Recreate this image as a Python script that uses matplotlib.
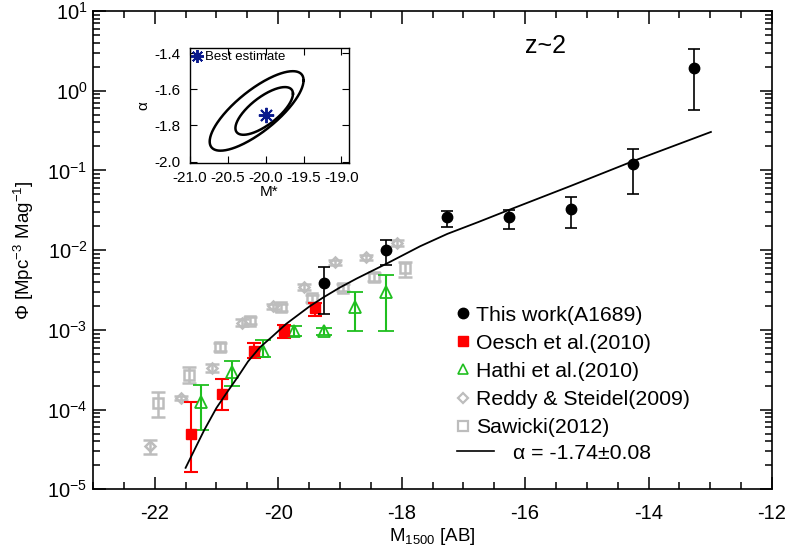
import numpy as np
import matplotlib
matplotlib.use("Agg")
import matplotlib.pyplot as plt
from matplotlib.lines import Line2D
from matplotlib.ticker import MultipleLocator, LogLocator, NullFormatter, FormatStrFormatter

plt.rcParams['font.family'] = ['Liberation Sans', 'DejaVu Sans']
plt.rcParams['mathtext.default'] = 'regular'
plt.rcParams['axes.unicode_minus'] = False

# ---- data ----
# This work (A1689)
mag_tw = [-19.26, -18.26, -17.26, -16.26, -15.26, -14.26, -13.26]
phi_tw = [3.9e-3, 1.0e-2, 2.6e-2, 2.6e-2, 3.3e-2, 0.12, 1.95]
hi_tw = [6.1e-3, 1.35e-2, 3.1e-2, 3.15e-2, 4.6e-2, 0.186, 3.3]
lo_tw = [1.6e-3, 6.5e-3, 1.95e-2, 1.85e-2, 1.9e-2, 0.050, 0.57]

# Oesch et al. (2010)
mag_oe = [-21.41, -20.91, -20.40, -19.90, -19.40]
phi_oe = [4.9e-5, 1.58e-4, 5.5e-4, 9.7e-4, 1.88e-3]
hi_oe = [1.26e-4, 2.45e-4, 6.8e-4, 1.15e-3, 2.2e-3]
lo_oe = [1.66e-5, 9.8e-5, 4.4e-4, 7.9e-4, 1.48e-3]

# Hathi et al. (2010)
mag_ha = [-21.25, -20.75, -20.25, -19.75, -19.25, -18.75, -18.25]
phi_ha = [1.25e-4, 2.95e-4, 5.5e-4, 9.6e-4, 9.8e-4, 1.92e-3, 2.95e-3]
hi_ha = [2.06e-4, 4.1e-4, 7.4e-4, 1.12e-3, 1.07e-3, 2.95e-3, 4.9e-3]
lo_ha = [5.5e-5, 2.0e-4, 4.6e-4, 8.4e-4, 8.5e-4, 9.8e-4, 9.8e-4]

# Reddy & Steidel (2009)
mag_rs = [-22.08, -21.58, -21.08, -20.58, -20.08, -19.58, -19.08, -18.58, -18.08]
phi_rs = [3.5e-5, 1.4e-4, 3.3e-4, 1.23e-3, 1.97e-3, 3.5e-3, 7.1e-3, 8.1e-3, 1.24e-2]
hi_rs = [4.2e-5, 1.5e-4, 3.7e-4, 1.35e-3, 2.1e-3, 3.8e-3, 7.6e-3, 8.7e-3, 1.36e-2]
lo_rs = [2.75e-5, 1.3e-4, 2.95e-4, 1.12e-3, 1.85e-3, 3.2e-3, 6.6e-3, 7.5e-3, 1.13e-2]

# Sawicki (2012)
mag_sw = [-21.95, -21.45, -20.95, -20.45, -19.95, -19.45, -18.95, -18.45, -17.95]
phi_sw = [1.2e-4, 2.75e-4, 6.1e-4, 1.31e-3, 1.91e-3, 2.5e-3, 3.4e-3, 4.6e-3, 5.9e-3]
hi_sw = [1.66e-4, 3.4e-4, 6.9e-4, 1.45e-3, 2.1e-3, 2.75e-3, 3.75e-3, 5.1e-3, 7.2e-3]
lo_sw = [8.1e-5, 2.15e-4, 5.4e-4, 1.18e-3, 1.72e-3, 2.25e-3, 3.05e-3, 4.1e-3, 4.6e-3]

# Schechter fit curve
mag_fit = [-21.50, -21.35, -21.20, -21.00, -20.84, -20.65, -20.49, -20.30, -20.10,
           -19.87, -19.50, -19.27, -19.00, -18.73, -18.24, -17.70, -17.26, -16.76,
           -16.26, -15.26, -14.26, -12.99]
phi_fit = [1.86e-5, 3.2e-5, 5.5e-5, 1.05e-4, 1.6e-4, 2.6e-4, 4.0e-4, 6.0e-4, 8.2e-4,
           1.19e-3, 1.95e-3, 2.55e-3, 3.4e-3, 4.4e-3, 6.8e-3, 1.12e-2, 1.6e-2, 2.25e-2,
           3.2e-2, 6.4e-2, 0.13, 0.304]

# inset: best estimate and confidence contours
# (centre x, centre y, half-width x, half-width y, correlation)
best_mstar = [-20.0]
best_alpha = [-1.74]
ell_cx = [-20.02, -20.12]
ell_cy = [-1.72, -1.72]
ell_sx = [0.38, 0.62]
ell_sy = [0.132, 0.22]
ell_rho = [0.72, 0.77]


def errs(phi, lo, hi):
    phi = np.array(phi)
    return [phi - np.array(lo), np.array(hi) - phi]


fig = plt.figure(figsize=(7.91, 5.54), dpi=100)
ax = fig.add_axes([0.1176, 0.1168, 0.8584, 0.8633])

red = '#ff0000'
green = '#1fbf1f'
gray = '#bdbdbd'

ax.errorbar(mag_sw, phi_sw, yerr=errs(phi_sw, lo_sw, hi_sw), fmt='s', ms=6.5,
            mfc='none', mec=gray, mew=1.8, ecolor=gray, elinewidth=1.8,
            capsize=5, capthick=1.8, zorder=2)
ax.errorbar(mag_rs, phi_rs, yerr=errs(phi_rs, lo_rs, hi_rs), fmt='D', ms=5.5,
            mfc='none', mec=gray, mew=1.8, ecolor=gray, elinewidth=1.8,
            capsize=5, capthick=1.8, zorder=2)
ax.errorbar(mag_ha, phi_ha, yerr=errs(phi_ha, lo_ha, hi_ha), fmt='^', ms=8,
            mfc='none', mec=green, mew=1.3, ecolor=green, elinewidth=1.5,
            capsize=5.5, capthick=1.5, zorder=3)
ax.errorbar(mag_oe, phi_oe, yerr=errs(phi_oe, lo_oe, hi_oe), fmt='s', ms=6.5,
            mfc=red, mec=red, ecolor=red, elinewidth=1.5,
            capsize=5, capthick=1.5, zorder=3)
ax.plot(mag_fit, phi_fit, color='black', lw=1.3, zorder=4)
ax.errorbar(mag_tw, phi_tw, yerr=errs(phi_tw, lo_tw, hi_tw), fmt='o', ms=7.5,
            mfc='black', mec='black', ecolor='black', elinewidth=1.2,
            capsize=4.5, capthick=1.2, zorder=5)

ax.set_yscale('log')
ax.set_xlim(-23, -12)
ax.set_ylim(1e-5, 10)
ax.xaxis.set_major_locator(MultipleLocator(2))
ax.xaxis.set_minor_locator(MultipleLocator(0.5))
ax.yaxis.set_major_locator(LogLocator(base=10, numticks=10))
ax.yaxis.set_minor_locator(LogLocator(base=10, subs=np.arange(2, 10), numticks=10))
ax.yaxis.set_minor_formatter(NullFormatter())
ax.tick_params(which='both', direction='in', top=True, right=True, width=1.1,
               labelsize=14.5)
ax.tick_params(which='major', length=9)
ax.tick_params(which='minor', length=5)
ax.tick_params(axis='x', pad=10.5)
ax.tick_params(axis='y', pad=4)
for s in ax.spines.values():
    s.set_linewidth(1.2)

ax.set_xlabel('M$_{1500}$ [AB]', fontsize=13.5, labelpad=2)
ax.set_ylabel('Φ [Mpc$^{-3}$ Mag$^{-1}$]', fontsize=13.5, labelpad=8)
ax.text(0.666, 0.927, 'z~2', transform=ax.transAxes, fontsize=18,
        ha='center', va='center')

# legend: markers
h_mark = [
    Line2D([], [], ls='none', marker='o', ms=7.5, mfc='black', mec='black'),
    Line2D([], [], ls='none', marker='s', ms=6.5, mfc=red, mec=red),
    Line2D([], [], ls='none', marker='^', ms=6.5, mfc='none', mec=green, mew=1.2),
    Line2D([], [], ls='none', marker='D', ms=5, mfc='none', mec=gray, mew=1.6),
    Line2D([], [], ls='none', marker='s', ms=6.5, mfc='none', mec=gray, mew=1.6),
]
lab_mark = ['This work(A1689)', 'Oesch et al.(2010)', 'Hathi et al.(2010)',
            'Reddy & Steidel(2009)', 'Sawicki(2012)']
leg1 = ax.legend(h_mark, lab_mark, loc='upper left', bbox_to_anchor=(0.5346, 0.384),
                 frameon=False, fontsize=15.3, handlelength=0.66, handletextpad=0.28,
                 labelspacing=0.43, borderpad=0, borderaxespad=0)
ax.add_artist(leg1)
h_line = [Line2D([], [], color='black', lw=1.2)]
ax.legend(h_line, ['α = -1.74±0.08'], loc='upper left', bbox_to_anchor=(0.536, 0.095),
          frameon=False, fontsize=15.3, handlelength=1.74, handletextpad=0.9,
          borderpad=0, borderaxespad=0)

# ---- inset ----
ins = fig.add_axes([0.2402, 0.7052, 0.201, 0.2087])
t = np.linspace(0, 2 * np.pi, 300)
for cx, cy, sx, sy, rho in zip(ell_cx, ell_cy, ell_sx, ell_sy, ell_rho):
    phase = np.arccos(rho)
    ins.plot(cx + sx * np.cos(t), cy + sy * np.cos(t - phase), color='black', lw=1.8)
ins.plot(best_mstar, best_alpha, ls='none', marker=(8, 2, 0), ms=11, mec='#0a1a8c',
         mew=1.4, label='Best estimate')
ins.legend(loc='upper left', frameon=False, fontsize=9.5, handlelength=0.6,
           handletextpad=0.25, borderpad=0.15, borderaxespad=0.1, markerscale=0.85)
ins.set_xlim(-21.0, -18.9)
ins.set_ylim(-2.01, -1.37)
ins.xaxis.set_major_locator(MultipleLocator(0.5))
ins.yaxis.set_major_locator(MultipleLocator(0.2))
ins.xaxis.set_major_formatter(FormatStrFormatter('%.1f'))
ins.yaxis.set_major_formatter(FormatStrFormatter('%.1f'))
ins.tick_params(direction='in', top=True, right=True, length=5, labelsize=11)
ins.tick_params(axis='x', pad=5.5)
ins.tick_params(axis='y', pad=7)
for s in ins.spines.values():
    s.set_linewidth(1.0)
ins.set_xlabel('M*', fontsize=11, labelpad=0)
ins.set_ylabel('α', fontsize=11, labelpad=3)

fig.savefig('out.png', dpi=100)
